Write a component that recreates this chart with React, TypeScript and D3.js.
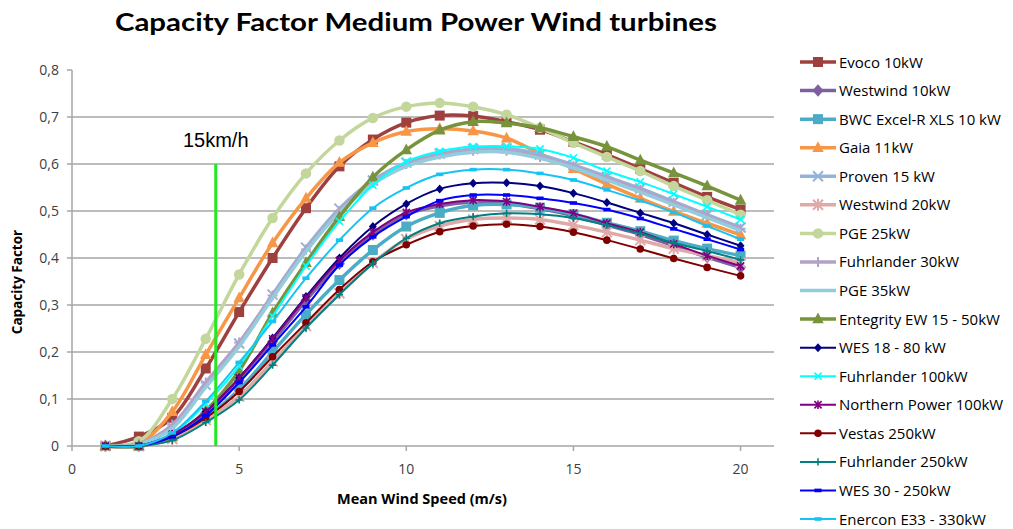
import React from "react";
import * as d3 from "d3";

const speeds = [1, 2, 3, 4, 5, 6, 7, 8, 9, 10, 11, 12, 13, 14, 15, 16, 17, 18, 19, 20];

const seriesNames = [
  "Evoco 10kW", "Westwind 10kW", "BWC Excel-R XLS 10 kW", "Gaia 11kW", "Proven 15 kW",
  "Westwind 20kW", "PGE 25kW", "Fuhrlander 30kW", "PGE 35kW", "Entegrity EW 15 - 50kW",
  "WES 18 - 80 kW", "Fuhrlander 100kW", "Northern Power 100kW", "Vestas 250kW",
  "Fuhrlander 250kW", "WES 30 - 250kW", "Enercon E33 - 330kW",
];

const evoco10 = [0, 0.02, 0.06, 0.165, 0.285, 0.4, 0.506, 0.595, 0.652, 0.688, 0.703, 0.702, 0.69, 0.673, 0.647, 0.62, 0.59, 0.56, 0.53, 0.503];
const westwind10 = [0, 0, 0.022, 0.07, 0.14, 0.222, 0.31, 0.388, 0.45, 0.493, 0.511, 0.519, 0.516, 0.505, 0.49, 0.47, 0.45, 0.426, 0.402, 0.38];
const bwcExcel = [0, 0, 0.02, 0.06, 0.12, 0.2, 0.28, 0.353, 0.417, 0.467, 0.496, 0.512, 0.514, 0.507, 0.493, 0.475, 0.457, 0.437, 0.42, 0.405];
const gaia11 = [0, 0.005, 0.073, 0.194, 0.315, 0.432, 0.527, 0.603, 0.645, 0.669, 0.675, 0.67, 0.655, 0.622, 0.59, 0.557, 0.527, 0.499, 0.474, 0.449];
const proven15 = [0, 0.005, 0.04, 0.13, 0.218, 0.322, 0.422, 0.505, 0.565, 0.603, 0.622, 0.632, 0.633, 0.62, 0.598, 0.573, 0.548, 0.52, 0.492, 0.465];
const westwind20 = [0, 0, 0.015, 0.055, 0.105, 0.18, 0.255, 0.325, 0.39, 0.44, 0.468, 0.482, 0.485, 0.482, 0.47, 0.455, 0.438, 0.42, 0.405, 0.39];
const pge25 = [0, 0.01, 0.1, 0.228, 0.365, 0.485, 0.58, 0.65, 0.698, 0.722, 0.73, 0.722, 0.705, 0.677, 0.645, 0.615, 0.585, 0.553, 0.523, 0.492];
const fuhr30 = [0, 0.005, 0.045, 0.135, 0.22, 0.32, 0.418, 0.5, 0.56, 0.6, 0.62, 0.628, 0.628, 0.615, 0.595, 0.57, 0.545, 0.517, 0.49, 0.462];
const pge35 = [0, 0.004, 0.038, 0.125, 0.212, 0.315, 0.414, 0.497, 0.557, 0.595, 0.615, 0.625, 0.625, 0.612, 0.592, 0.566, 0.54, 0.513, 0.486, 0.458];
const entegrity = [0, 0, 0.02, 0.075, 0.16, 0.283, 0.39, 0.488, 0.572, 0.63, 0.672, 0.69, 0.687, 0.677, 0.658, 0.637, 0.608, 0.581, 0.553, 0.523];
const wes18 = [0, 0, 0.025, 0.073, 0.145, 0.23, 0.318, 0.4, 0.467, 0.515, 0.547, 0.559, 0.56, 0.553, 0.538, 0.518, 0.496, 0.474, 0.45, 0.426];
const fuhr100 = [0, 0, 0.025, 0.09, 0.17, 0.276, 0.383, 0.478, 0.555, 0.605, 0.627, 0.637, 0.638, 0.632, 0.613, 0.585, 0.562, 0.536, 0.509, 0.482];
const northern100 = [0, 0, 0.025, 0.073, 0.145, 0.228, 0.315, 0.395, 0.455, 0.497, 0.515, 0.523, 0.52, 0.509, 0.495, 0.474, 0.455, 0.43, 0.405, 0.383];
const vestas250 = [0, 0, 0.02, 0.06, 0.116, 0.19, 0.262, 0.333, 0.392, 0.428, 0.456, 0.468, 0.472, 0.467, 0.455, 0.438, 0.419, 0.399, 0.38, 0.362];
const fuhr250 = [0, 0, 0.012, 0.05, 0.098, 0.172, 0.251, 0.322, 0.388, 0.442, 0.474, 0.488, 0.495, 0.493, 0.485, 0.47, 0.452, 0.432, 0.415, 0.396];
const wes30 = [0, 0, 0.02, 0.065, 0.135, 0.215, 0.296, 0.385, 0.445, 0.488, 0.522, 0.534, 0.534, 0.527, 0.517, 0.503, 0.484, 0.462, 0.44, 0.418];
const enercon33 = [0, 0, 0.028, 0.095, 0.178, 0.265, 0.357, 0.438, 0.506, 0.549, 0.578, 0.588, 0.588, 0.58, 0.566, 0.545, 0.522, 0.497, 0.468, 0.44];

const seriesValues = [
  evoco10, westwind10, bwcExcel, gaia11, proven15, westwind20, pge25, fuhr30, pge35,
  entegrity, wes18, fuhr100, northern100, vestas250, fuhr250, wes30, enercon33,
];

const seriesColors = [
  "#9E413E", "#7E60A1", "#4BACC6", "#F79646", "#95B3D7", "#E0A9A8", "#C3D69B", "#B3A2C7",
  "#93CDDD", "#77933C", "#000080", "#00FFFF", "#800080", "#800000", "#008080", "#0000FF", "#17C3F2",
];
const seriesMarkers = [
  "square", "diamond", "square", "triangle", "x", "star", "circle", "plus", "none",
  "triangle", "diamond", "x", "star", "circle", "plus", "dash", "dash",
];
const seriesThick = [true, true, true, true, true, true, true, true, true, true, false, false, false, false, false, false, false];

const yTicks = [0, 0.1, 0.2, 0.3, 0.4, 0.5, 0.6, 0.7, 0.8];
const xTicks = [0, 5, 10, 15, 20];
const markerSpeed = 4.3; // 15 km/h reference line
const markerTop = 0.6;

const W = 1013;
const H = 529;
const X0 = 72, X1 = 774;
const Y0 = 446, Y1 = 70;

function Marker({ type, x, y, color, thick }: { type: string; x: number; y: number; color: string; thick: boolean }) {
  const s = thick ? 5 : 3.6;
  const sw = thick ? 2 : 1.6;
  switch (type) {
    case "square":
      return <rect x={x - s} y={y - s} width={2 * s} height={2 * s} fill={color} />;
    case "diamond":
      return <path d={`M${x},${y - s * 1.25}L${x + s * 1.1},${y}L${x},${y + s * 1.25}L${x - s * 1.1},${y}Z`} fill={color} />;
    case "triangle":
      return <path d={`M${x},${y - s * 1.3}L${x + s * 1.15},${y + s * 0.85}L${x - s * 1.15},${y + s * 0.85}Z`} fill={color} />;
    case "circle":
      return <circle cx={x} cy={y} r={s * 1.05} fill={color} />;
    case "x":
      return <path d={`M${x - s},${y - s}L${x + s},${y + s}M${x - s},${y + s}L${x + s},${y - s}`} stroke={color} strokeWidth={sw} fill="none" />;
    case "plus":
      return <path d={`M${x - s},${y}L${x + s},${y}M${x},${y - s}L${x},${y + s}`} stroke={color} strokeWidth={sw} fill="none" />;
    case "star":
      return <path d={`M${x - s},${y - s}L${x + s},${y + s}M${x - s},${y + s}L${x + s},${y - s}M${x},${y - s * 1.2}L${x},${y + s * 1.2}`} stroke={color} strokeWidth={sw} fill="none" />;
    case "dash":
      return <rect x={x - s} y={y - 1.8} width={2 * s} height={3.6} fill={color} />;
    default:
      return null;
  }
}

export default function App() {
  const x = d3.scaleLinear().domain([0, 21]).range([X0, X1]);
  const y = d3.scaleLinear().domain([0, 0.8]).range([Y0, Y1]);
  const line = d3
    .line<number>()
    .x((_, i) => x(speeds[i]))
    .y((v) => y(v))
    .curve(d3.curveCatmullRom.alpha(0.5));

  const font = "'Open Sans', 'Liberation Sans', sans-serif";
  const legendY = d3.scaleLinear().domain([0, 16]).range([62, 519]);

  return (
    <svg width={W} height={H} style={{ position: "absolute", left: 0, top: 0, background: "#fff" }}>
      <rect x={0} y={0} width={W} height={H} fill="#fff" />
      <text x={416} y={31} textAnchor="middle" fontFamily="Lato, 'Open Sans', sans-serif" fontWeight="bold" fontSize={25} textLength={602} lengthAdjust="spacingAndGlyphs" fill="#000">
        Capacity Factor Medium Power Wind turbines
      </text>

      {/* gridlines */}
      {yTicks.filter((t) => t > 0 && t < 0.8).map((t) => (
        <line key={t} x1={X0} x2={X1} y1={y(t)} y2={y(t)} stroke="#A6A6A6" strokeWidth={1.5} />
      ))}
      {/* axes */}
      <line x1={X0} x2={X0} y1={Y1} y2={Y0} stroke="#A6A6A6" strokeWidth={1.5} />
      <line x1={X0} x2={X1} y1={Y0} y2={Y0} stroke="#A6A6A6" strokeWidth={1.5} />
      {yTicks.map((t) => (
        <g key={t}>
          <line x1={X0 - 5} x2={X0} y1={y(t)} y2={y(t)} stroke="#A6A6A6" strokeWidth={1.5} />
          <text x={59} y={y(t) + 5} textAnchor="end" fontFamily={font} fontSize={14} fill="#404040">
            {t === 0 ? "0" : t.toFixed(1).replace(".", ",")}
          </text>
        </g>
      ))}
      {xTicks.map((t) => (
        <g key={t}>
          <line x1={x(t)} x2={x(t)} y1={Y0} y2={Y0 + 5} stroke="#A6A6A6" strokeWidth={1.5} />
          <text x={x(t)} y={Y0 + 28} textAnchor="middle" fontFamily={font} fontSize={14} fill="#404040">
            {t}
          </text>
        </g>
      ))}
      <text x={422} y={504} textAnchor="middle" fontFamily={font} fontWeight="bold" fontSize={14} textLength={170} lengthAdjust="spacingAndGlyphs" fill="#000">
        Mean Wind Speed (m/s)
      </text>
      <text transform="translate(22,282) rotate(-90)" textAnchor="middle" fontFamily={font} fontWeight="bold" fontSize={13.5} fill="#000">
        Capacity Factor
      </text>

      {/* series */}
      {seriesValues.map((vals, si) => (
        <g key={seriesNames[si]}>
          <path d={line(vals) || ""} fill="none" stroke={seriesColors[si]} strokeWidth={seriesThick[si] ? 3.5 : 2} />
          {vals.map((v, i) => (
            <Marker key={i} type={seriesMarkers[si]} x={x(speeds[i])} y={y(v)} color={seriesColors[si]} thick={seriesThick[si]} />
          ))}
        </g>
      ))}

      {/* 15 km/h reference */}
      <line x1={x(markerSpeed)} x2={x(markerSpeed)} y1={y(markerTop)} y2={Y0} stroke="#22E822" strokeWidth={3} />
      <text x={x(markerSpeed)} y={147} textAnchor="middle" fontFamily="'Liberation Sans', Arial, sans-serif" fontSize={20} fill="#000">
        15km/h
      </text>

      {/* legend */}
      {seriesNames.map((name, si) => {
        const ly = legendY(si);
        return (
          <g key={name}>
            <line x1={800} x2={836} y1={ly} y2={ly} stroke={seriesColors[si]} strokeWidth={seriesThick[si] ? 3.5 : 2} />
            <Marker type={seriesMarkers[si]} x={818} y={ly} color={seriesColors[si]} thick={seriesThick[si]} />
            <text x={839} y={ly + 5.5} fontFamily={font} fontSize={15} fill="#000">
              {name}
            </text>
          </g>
        );
      })}
    </svg>
  );
}
